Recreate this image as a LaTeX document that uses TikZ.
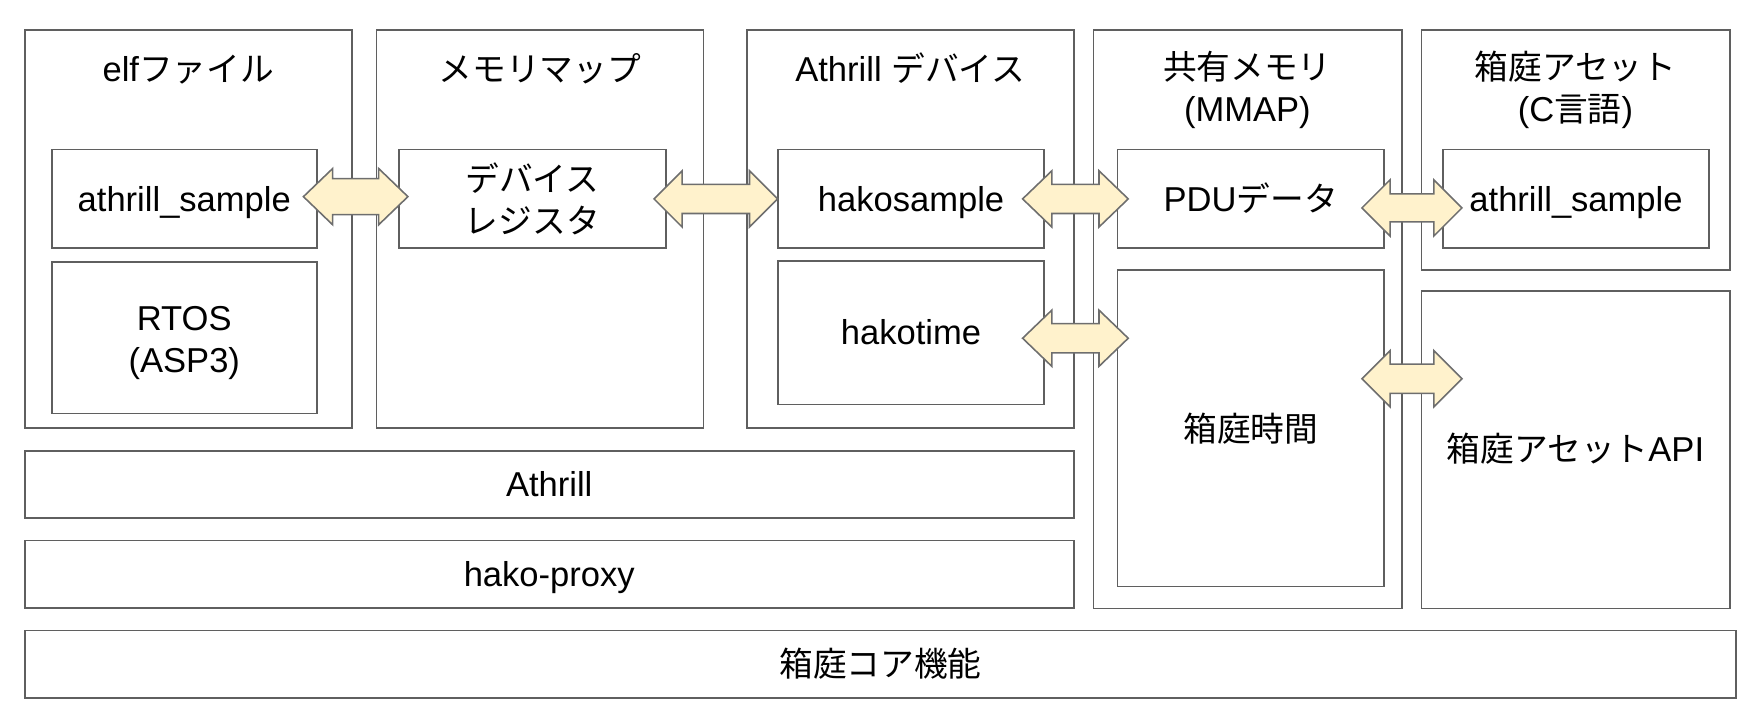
\documentclass[tikz,border=0pt]{standalone}
\usepackage{fontspec}
\setmainfont{Liberation Sans}[Scale=1.025]
\newfontfamily\jp{Noto Sans CJK JP}
\usetikzlibrary{fit}
\definecolor{boxline}{HTML}{5F5F5F}
\definecolor{arrfill}{HTML}{FFF2CC}
\definecolor{arrline}{HTML}{6E6E6E}
\newcommand\hkarrow[6]{%
  \draw[arr] (#1,#3) -- (#1+#4,#3-#5) -- (#1+#4,#3-#6) -- (#2-#4,#3-#6) -- (#2-#4,#3-#5) -- (#2,#3)
   -- (#2-#4,#3+#5) -- (#2-#4,#3+#6) -- (#1+#4,#3+#6) -- (#1+#4,#3+#5) -- cycle;}
\begin{document}
\begin{tikzpicture}[x=0.5pt,y=-0.5pt,
  box/.style={draw=boxline,line width=0.8pt,inner sep=0pt},
  lbl/.style={inner sep=0pt,align=center,font=\fontsize{15}{18.7}\selectfont},
  lbla/.style={lbl,text height=14pt,text depth=3pt},
  arr/.style={fill=arrfill,draw=arrline,line width=0.7pt,line join=miter}]
\useasboundingbox (0,0) rectangle (1568,642);
% outer boxes
\node[box,fit={(22,27)(313,381)}] (elf) {};
\node[box,fit={(335,27)(626,381)}] (mm) {};
\node[box,fit={(665,27)(955.5,381)}] (adev) {};
\node[box,fit={(973,27)(1247.5,541.5)}] (shm) {};
\node[box,fit={(1265,27)(1539.5,240)}] (asset) {};
\node[box,fit={(1265,259)(1539.5,541.5)}] (api) {};
\node[box,fit={(22,401)(955.5,461)}] (ath) {};
\node[box,fit={(22,481)(955.5,541)}] (proxy) {};
\node[box,fit={(22,561)(1545,621)}] (core) {};
% inner boxes
\node[box,fit={(46,133)(282,221)}] (as1) {};
\node[box,fit={(46,233)(282,368)}] (rtos) {};
\node[box,fit={(355,133)(592.5,221)}] (devreg) {};
\node[box,fit={(692.5,133)(929,221)}] (hs) {};
\node[box,fit={(692.5,232)(929,360)}] (ht) {};
\node[box,fit={(994.5,133)(1231.5,221)}] (pdu) {};
\node[box,fit={(994.5,240)(1231.5,522)}] (htime) {};
\node[box,fit={(1284,133)(1521,221)}] (as2) {};
% labels
\node[lbla] (t1) at (167.5,61.5) {elf{\jp ファイル}};
\node[lbla] (t2) at (480.5,61.5) {\jp メモリマップ};
\node[lbla] (t3) at (810,61.5) {Athrill {\jp デバイス}};
\node[lbl] (t4) at (1110,80) {{\jp 共有メモリ}\\(MMAP)};
\node[lbl] (t5) at (1402,80) {{\jp 箱庭アセット}\\(C{\jp 言語})};
\node[lbla] (t6) at (as1.center) {athrill\_sample};
\node[lbl] (t7) at ([yshift=-2.5pt]rtos.center) {RTOS\\(ASP3)};
\node[lbl] (t8) at (devreg.center) {{\jp デバイス}\\{\jp レジスタ}};
\node[lbla] (t9) at (hs.center) {hakosample};
\node[lbla] (t10) at (ht.center) {hakotime};
\node[lbla] (t11) at (pdu.center) {PDU{\jp データ}};
\node[lbla] (t12) at (1113,382) {\jp 箱庭時間};
\node[lbla] (t13) at (as2.center) {athrill\_sample};
\node[lbla] (t14) at (1402,400) {{\jp 箱庭アセット}API};
\node[lbla] (t15) at (ath.center) {Athrill};
\node[lbla] (t16) at (proxy.center) {hako-proxy};
\node[lbla] (t17) at (core.center) {\jp 箱庭コア機能};
% block arrows
\hkarrow{270}{363}{175}{26}{25}{16}
\hkarrow{582}{692}{177}{25}{25}{13}
\hkarrow{910}{1004}{177}{26}{25}{13}
\hkarrow{910}{1004}{301}{26}{25}{13}
\hkarrow{1212}{1301}{185}{25}{25}{12.5}
\hkarrow{1212}{1301}{337}{25}{25}{13}
\end{tikzpicture}
\end{document}
